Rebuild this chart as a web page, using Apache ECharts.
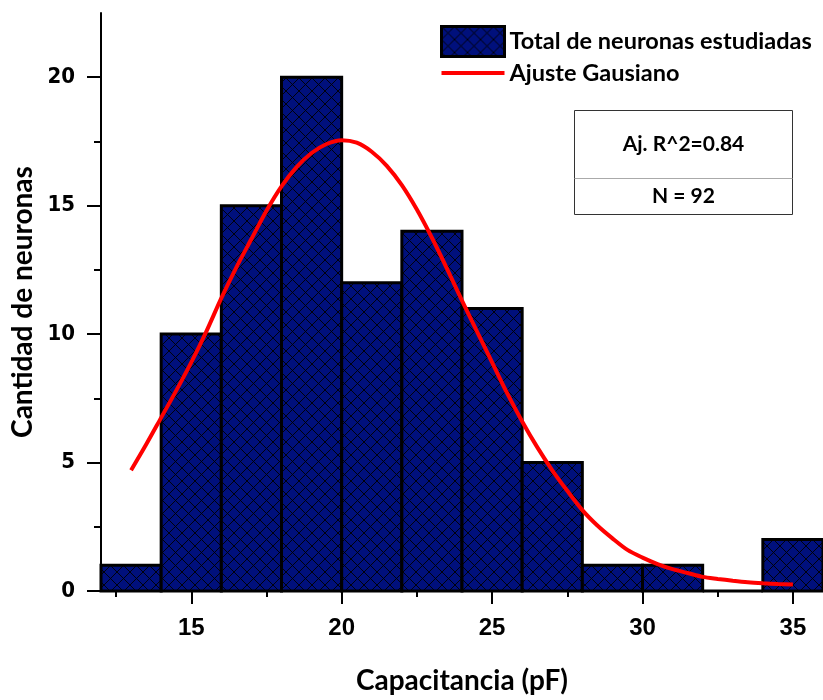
<!DOCTYPE html>
<html>
<head>
<meta charset="utf-8">
<script src="https://cdn.jsdelivr.net/npm/echarts@6/dist/echarts.min.js"></script>
<style>
html,body{margin:0;padding:0;background:#fff;}
#c{width:823px;height:700px;}
</style>
</head>
<body>
<div id="c"></div>
<script>
// ---- data ----
var binStarts = [12, 14, 16, 18, 20, 22, 24, 26, 28, 30, 32, 34];
var binWidth = 2;
var counts = [1, 10, 15, 20, 12, 14, 11, 5, 1, 1, 0, 2];
var fitX = [13, 13.5, 14, 14.5, 15, 15.5, 16, 16.5, 17, 17.5, 18, 18.5, 19, 19.5, 20, 20.5, 21, 21.5, 22, 22.5, 23, 23.5, 24, 24.5, 25, 25.5, 26, 26.5, 27, 27.5, 28, 28.5, 29, 29.5, 30, 30.5, 31, 31.5, 32, 32.5, 33, 33.5, 34, 34.5, 35];
var fitY = [4.7, 5.7, 6.75, 7.8, 8.9, 10.1, 11.4, 12.6, 13.7, 14.8, 15.75, 16.5, 17.05, 17.4, 17.55, 17.45, 17.1, 16.55, 15.8, 14.85, 13.75, 12.55, 11.3, 10.1, 8.9, 7.7, 6.6, 5.6, 4.7, 3.9, 3.15, 2.55, 2.05, 1.6, 1.3, 1.05, 0.85, 0.7, 0.55, 0.47, 0.4, 0.34, 0.3, 0.27, 0.25];
var xMajorTicks = [15, 20, 25, 30, 35];
var xMinorTicks = [12.5, 17.5, 22.5, 27.5, 32.5];
var yMajorTicks = [0, 5, 10, 15, 20];
var yMinorTicks = [2.5, 7.5, 12.5, 17.5];
var legendNames = ['Total de neuronas estudiadas', 'Ajuste Gausiano'];
var statsLines = ['Aj. R^2=0.84', 'N = 92'];

// ---- hatch pattern ----
var tile = 13;
var pc = document.createElement('canvas');
pc.width = tile; pc.height = tile;
var g = pc.getContext('2d');
g.fillStyle = '#00107c';
g.fillRect(0, 0, tile, tile);
g.strokeStyle = 'rgba(0,0,0,0.9)';
g.lineWidth = 1;
g.beginPath();
g.moveTo(0, 0); g.lineTo(tile, tile);
g.moveTo(tile, 0); g.lineTo(0, tile);
g.stroke();
var hatch = { image: pc, repeat: 'repeat' };

var barData = binStarts.map(function (s, i) { return [s, s + binWidth, counts[i]]; });
var fitData = fitX.map(function (x, i) { return [x, fitY[i]]; });

var chart = echarts.init(document.getElementById('c'), null, { renderer: 'canvas' });
chart.setOption({
  animation: false,
  backgroundColor: '#fff',
  grid: { left: 101, right: -2, top: 13, bottom: 102, containLabel: false },
  legend: {
    orient: 'vertical', left: 440, top: 25, padding: 0,
    itemWidth: 63, itemHeight: 30, itemGap: 3,
    textStyle: { fontFamily: 'Lato', fontWeight: 'bold', fontSize: 23.5, color: '#000' },
    data: [
      { name: legendNames[0], icon: 'rect', itemStyle: { color: hatch, borderColor: '#000', borderWidth: 3 } },
      { name: legendNames[1], icon: 'path://M0,0 L63,0 L63,4 L0,4 Z', itemStyle: { color: '#ff0000' } }
    ]
  },
  xAxis: [{
    type: 'value', min: 12, max: 36,
    name: 'Capacitancia (pF)', nameLocation: 'middle', nameGap: 76,
    nameTextStyle: { fontFamily: 'Lato', fontWeight: 'bold', fontSize: 28, color: '#000' },
    axisLine: { show: true, onZero: false, lineStyle: { color: '#000', width: 2 } },
    axisTick: { show: true, customValues: xMajorTicks, length: 13, lineStyle: { color: '#000', width: 2 } },
    axisLabel: { customValues: xMajorTicks, margin: 25, fontFamily: 'Liberation Sans', fontWeight: 'bold', fontSize: 24, color: '#000' },
    splitLine: { show: false }
  }, {
    type: 'value', min: 12, max: 36, position: 'bottom',
    axisLine: { show: false },
    axisTick: { show: true, customValues: xMinorTicks, length: 6, lineStyle: { color: '#000', width: 2 } },
    axisLabel: { show: false },
    splitLine: { show: false }
  }],
  yAxis: [{
    type: 'value', min: 0, max: 22.5,
    name: 'Cantidad de neuronas', nameLocation: 'middle', nameGap: 55,
    nameTextStyle: { fontFamily: 'Lato', fontWeight: 'bold', fontSize: 28, color: '#000' },
    axisLine: { show: true, onZero: false, lineStyle: { color: '#000', width: 2 } },
    axisTick: { show: true, customValues: yMajorTicks, length: 14, lineStyle: { color: '#000', width: 2 } },
    axisLabel: { customValues: yMajorTicks, margin: 26, fontFamily: 'DejaVu Sans Condensed', fontWeight: 'bold', fontSize: 22, color: '#000' },
    splitLine: { show: false }
  }, {
    type: 'value', min: 0, max: 22.5, position: 'left',
    axisLine: { show: false },
    axisTick: { show: true, customValues: yMinorTicks, length: 7, lineStyle: { color: '#000', width: 2 } },
    axisLabel: { show: false },
    splitLine: { show: false }
  }],
  series: [{
    name: legendNames[0],
    type: 'custom',
    xAxisIndex: 0, yAxisIndex: 0,
    itemStyle: { color: hatch, borderColor: '#000', borderWidth: 3 },
    data: barData,
    encode: { x: [0, 1], y: 2 },
    renderItem: function (params, api) {
      var p0 = api.coord([api.value(0), api.value(2)]);
      var p1 = api.coord([api.value(1), 0]);
      return {
        type: 'rect',
        shape: { x: p0[0], y: p0[1], width: p1[0] - p0[0], height: p1[1] - p0[1] },
        style: { fill: hatch, stroke: '#000', lineWidth: 3 }
      };
    },
    z: 2
  }, {
    name: legendNames[1],
    type: 'line',
    xAxisIndex: 0, yAxisIndex: 0,
    data: fitData,
    smooth: 0.3,
    showSymbol: false, symbol: 'none',
    lineStyle: { color: '#ff0000', width: 4 },
    itemStyle: { color: '#ff0000' },
    z: 3
  }],
  graphic: [{
    type: 'group', left: 572, top: 110,
    children: [
      { type: 'rect', shape: { x: 0, y: 0, width: 218, height: 104 }, style: { fill: '#fff', stroke: '#333', lineWidth: 1 } },
      { type: 'line', shape: { x1: 0, y1: 68, x2: 218, y2: 68 }, style: { stroke: '#aaa', lineWidth: 1 } },
      { type: 'text', x: 109, y: 34, style: { text: statsLines[0], align: 'center', verticalAlign: 'middle', font: 'bold 21px Lato', fill: '#000' } },
      { type: 'text', x: 109, y: 86, style: { text: statsLines[1], align: 'center', verticalAlign: 'middle', font: 'bold 21px Lato', fill: '#000' } }
    ]
  }]
});
</script>
</body>
</html>
